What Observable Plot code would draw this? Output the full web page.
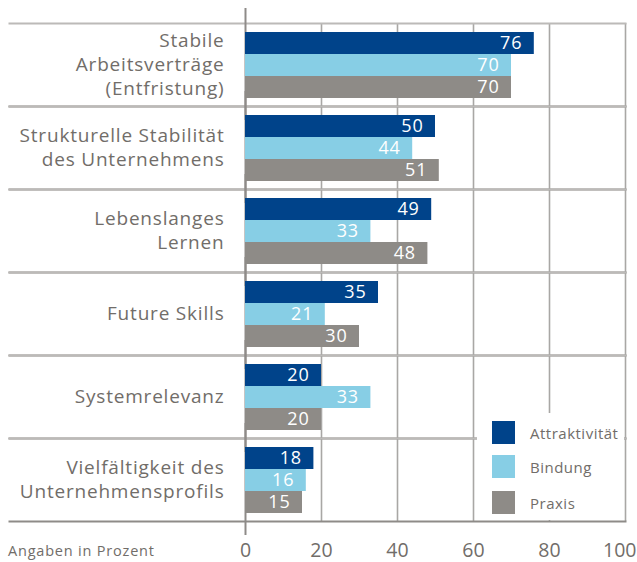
<!DOCTYPE html>
<html>
<head>
<meta charset="utf-8">
<script src="https://cdn.jsdelivr.net/npm/d3@7"></script>
<script src="https://cdn.jsdelivr.net/npm/@observablehq/plot@0.6"></script>
<style>
  html, body { margin: 0; padding: 0; background: #fff; }
  #wrap { position: relative; width: 637px; height: 562px; font-family: "Open Sans", sans-serif; color: #716d69; }
  #wrap svg { letter-spacing: 0.8px; }
  #wrap svg g[aria-label="x-axis tick label"] { letter-spacing: 0; }
  #caption { position: absolute; left: 8px; top: 541px; font-size: 14.5px; line-height: 20px; white-space: nowrap; letter-spacing: 0.8px; }
  #legend { position: absolute; left: 477px; top: 413px; width: 147px; height: 107px; background: #fff; }
  .item { position: absolute; left: 15px; height: 23px; display: flex; align-items: center; font-size: 15px; letter-spacing: 0.5px; white-space: nowrap; }
  .sw { width: 23px; height: 23px; margin-right: 15px; }
</style>
</head>
<body>
<div id="wrap"></div>
<script>
const categories = [
  "Stabile\nArbeitsverträge\n(Entfristung)",
  "Strukturelle Stabilität\ndes Unternehmens",
  "Lebenslanges\nLernen",
  "Future Skills",
  "Systemrelevanz",
  "Vielfältigkeit des\nUnternehmensprofils"
];
const seriesNames = ["Attraktivität", "Bindung", "Praxis"];
const attraktivitaet = [76, 50, 49, 35, 20, 18];
const bindung = [70, 44, 33, 21, 33, 16];
const praxis = [70, 51, 48, 30, 20, 15];
const seriesColors = ["#00438a", "#87cee5", "#8e8b87"];
const xTicks = [0, 20, 40, 60, 80, 100];
const gridTicks = [20, 40, 60, 80, 100];
const captionText = "Angaben in Prozent";

const seriesValues = [attraktivitaet, bindung, praxis];
const rows = [];
categories.forEach((c, i) => {
  seriesNames.forEach((s, j) => rows.push({category: c, series: s, value: seriesValues[j][i]}));
});

const textColor = "#716d69";
const innerTicks = xTicks.slice(0, -1);
const lastTick = xTicks.slice(-1);

const chart = Plot.plot({
  width: 637,
  height: 562,
  marginLeft: 245,
  marginRight: 12,
  marginTop: 23,
  marginBottom: 41,
  style: {fontFamily: "Open Sans, sans-serif", color: textColor, background: "#fff"},
  x: {domain: [0, 100]},
  fy: {domain: categories, padding: 0, axis: null},
  y: {domain: seriesNames, paddingInner: 0, paddingOuter: 0.34, axis: null},
  color: {domain: seriesNames, range: seriesColors},
  marks: [
    Plot.ruleX(gridTicks, {stroke: "#a9a7a5", strokeWidth: 1.6}),
    Plot.frame({anchor: "bottom", stroke: "#8e8b88", strokeWidth: 2, insetLeft: -236}),
    Plot.frame({anchor: "top", stroke: "#bcbab8", strokeWidth: 2, insetLeft: -236}),
    Plot.ruleX([0], {stroke: "#8e8b88", strokeWidth: 2, insetTop: -15, insetBottom: -14}),
    Plot.barX(rows, {fy: "category", y: "series", x: "value", fill: "series"}),
    Plot.text(rows, {fy: "category", y: "series", x: "value", text: d => String(d.value),
      fill: "#fff", fontSize: 18, textAnchor: "end", dx: -12}),
    Plot.text(categories, {fy: d => d, text: d => d, frameAnchor: "left", textAnchor: "end",
      dx: -21, dy: -1.5, fontSize: 19, lineHeight: 1.27, fill: textColor}),
    Plot.axisX(innerTicks, {tickSize: 0, tickPadding: 22, fontSize: 19.5, label: null, fill: textColor}),
    Plot.axisX(lastTick, {tickSize: 0, tickPadding: 22, fontSize: 19.5, label: null, fill: textColor, textAnchor: "end", dx: 11})
  ]
});

const wrap = document.getElementById("wrap");
wrap.appendChild(chart);

const cap = document.createElement("div");
cap.id = "caption";
cap.textContent = captionText;
wrap.appendChild(cap);

const legend = document.createElement("div");
legend.id = "legend";
const legendTops = [8, 42, 78];
seriesNames.forEach((s, i) => {
  const it = document.createElement("div");
  it.className = "item";
  it.style.top = legendTops[i] + "px";
  const sw = document.createElement("div");
  sw.className = "sw";
  sw.style.background = seriesColors[i];
  const t = document.createElement("span");
  t.textContent = s;
  it.appendChild(sw);
  it.appendChild(t);
  legend.appendChild(it);
});
wrap.appendChild(legend);
</script>
</body>
</html>
